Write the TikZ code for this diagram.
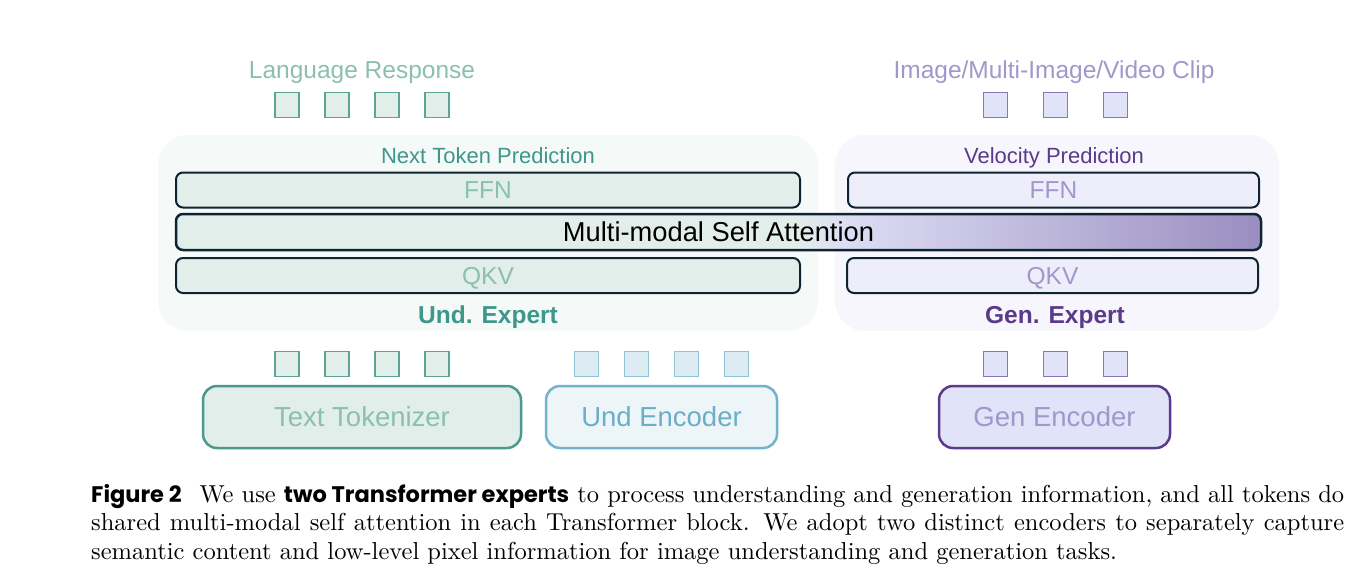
\documentclass[tikz,border=0pt]{standalone}
\usepackage{fontspec}
\newfontfamily\arialfont{Liberation Sans}
\newfontfamily\capfont{Poppins}
\newfontfamily\capserif{lmroman10-regular.otf}
\definecolor{undfill}{HTML}{E2EEE9}
\definecolor{undtext}{HTML}{8BBFB2}
\definecolor{undtitle}{HTML}{3D978A}
\definecolor{undline}{HTML}{4A9A8C}
\definecolor{undtok}{HTML}{5DA396}
\definecolor{undbg}{HTML}{F5F9F8}
\definecolor{genfill}{HTML}{EDEEFA}
\definecolor{gentext}{HTML}{A197CB}
\definecolor{gentitle}{HTML}{5A3A8A}
\definecolor{genbg}{HTML}{F6F6FC}
\definecolor{gentokfill}{HTML}{E1E3F8}
\definecolor{gentok}{HTML}{8A76B4}
\definecolor{encfill}{HTML}{EDF5F9}
\definecolor{encline}{HTML}{72B2CA}
\definecolor{enctext}{HTML}{6BAEC6}
\definecolor{enctokfill}{HTML}{DCEAF2}
\definecolor{enctok}{HTML}{8EC4D6}
\definecolor{layerline}{HTML}{0E2433}
\definecolor{msalav}{HTML}{DCDCF3}
\definecolor{msapurple}{HTML}{9A8EC0}
\pgfdeclarehorizontalshading{msashade}{100bp}{color(0bp)=(undfill); color(53.5bp)=(undfill); color(56bp)=(msalav); color(75bp)=(msapurple); color(100bp)=(msapurple)}

\begin{document}
\begin{tikzpicture}[x=1pt,y=-1pt,
        bg/.style={rounded corners=30pt, inner sep=0},
        layer/.style={draw=layerline, line width=2pt, rounded corners=7pt, inner sep=0,
            minimum height=35pt, text depth=0pt, font=\arialfont\fontsize{24.5}{24.5}\selectfont},
        tok/.style={line width=1.5pt, minimum width=24pt, minimum height=25pt, inner sep=0},
        enc/.style={line width=2.5pt, rounded corners=14pt, minimum width=231pt,
            minimum height=62pt, inner sep=0, font=\arialfont\fontsize{27.5}{27.5}\selectfont},
        lbl/.style={inner sep=0, anchor=base, font=\arialfont\fontsize{22}{22}\selectfont}]
    \useasboundingbox (0,0) rectangle (1372,586);

    \node[bg, fill=undbg, minimum width=660pt, minimum height=196pt] (undbox) at (488,233) {};
    \node[bg, fill=genbg, minimum width=444pt, minimum height=196pt] (genbox) at (1057,233) {};

    \node[lbl, text=undtitle] (ntp) at (488,163) {Next Token Prediction};
    \node[lbl, text=gentitle] (vp) at (1054,163) {Velocity Prediction};
    \node[lbl, text=undtitle, font=\arialfont\bfseries\fontsize{24.5}{24.5}\selectfont] (undexp) at (488,323.5) {Und. Expert};
    \node[lbl, text=gentitle, font=\arialfont\bfseries\fontsize{24.5}{24.5}\selectfont] (genexp) at (1055,323.5) {Gen. Expert};

    \node[layer, fill=undfill, text=undtext, minimum width=624pt] (undffn) at (488,190) {FFN};
    \node[layer, fill=undfill, text=undtext, minimum width=624pt] (undqkv) at (488,275.5) {QKV};
    \node[layer, fill=genfill, text=gentext, minimum width=411pt] (genffn) at (1053.5,190) {FFN};
    \node[layer, fill=genfill, text=gentext, minimum width=411pt] (genqkv) at (1052.5,275.5) {QKV};
    \node[layer, line width=2.5pt, shading=msashade, minimum width=1085pt, minimum height=36pt,
        font=\arialfont\fontsize{27.3}{27.3}\selectfont] (msa) at (718.5,232) {Multi-modal Self Attention};

    \node[lbl, text=undtext, font=\arialfont\fontsize{24.5}{24.5}\selectfont] (langresp) at (362,78) {Language Response};
    \node[lbl, text=gentext, font=\arialfont\fontsize{24.5}{24.5}\selectfont] (imgclip) at (1054,78) {Image/Multi-Image/Video Clip};

    \foreach \i in {0,...,3} {
        \node[tok, draw=undtok, fill=undfill] (outtok\i) at (287+50*\i,105) {};
        \node[tok, draw=undtok, fill=undfill] (txttok\i) at (287+50*\i,364) {};
        \node[tok, draw=enctok, fill=enctokfill] (undtok\i) at (586.5+50*\i,364) {};
    }
    \foreach \i in {0,...,2} {
        \node[tok, draw=gentok, fill=gentokfill] (outgen\i) at (995.5+60*\i,105) {};
        \node[tok, draw=gentok, fill=gentokfill] (gentok\i) at (995.5+60*\i,364) {};
    }

    \node[enc, draw=undline, fill=undfill, text=undtext, minimum width=318pt] (tokenizer) at (362,417) {Text Tokenizer};
    \node[enc, draw=encline, fill=encfill, text=enctext] (undenc) at (661.5,417) {Und Encoder};
    \node[enc, draw=gentitle, fill=gentokfill, text=gentext] (genenc) at (1054.5,417) {Gen Encoder};

    \node[anchor=base west, inner sep=0, text width=1253pt, align=justify,
        font=\capserif\fontsize{24.5}{28.5}\selectfont] (caption) at (91,502)
        {{\capfont\bfseries\fontsize{22.5}{28.5}\selectfont Figure 2}\hspace{0.4em} We use {\capfont\bfseries\fontsize{22.5}{28.5}\selectfont two Transformer experts} to process understanding and generation information, and all tokens do\linebreak
        shared multi-modal self attention in each Transformer block. We adopt two distinct encoders to separately capture\linebreak
        semantic content and low-level pixel information for image understanding and generation tasks.};
\end{tikzpicture}
\end{document}
